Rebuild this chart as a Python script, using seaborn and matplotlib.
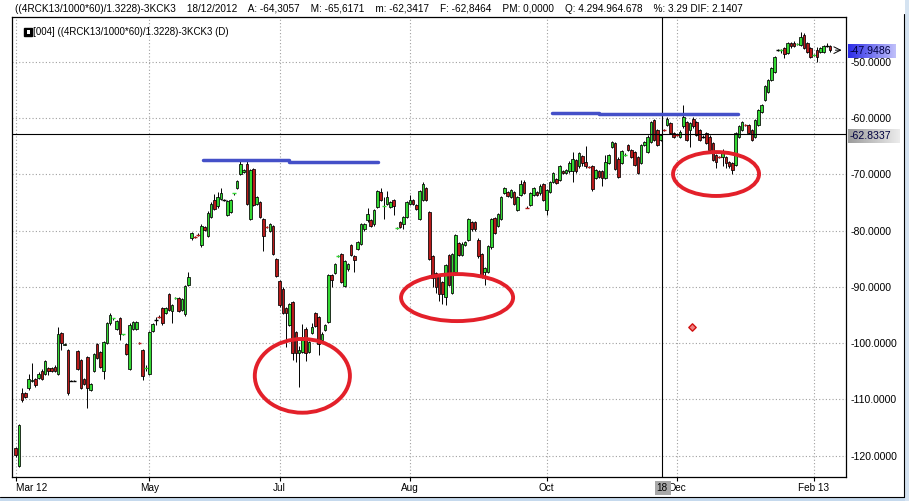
import matplotlib
matplotlib.use("Agg")
import numpy as np
import pandas as pd
import seaborn as sns
import matplotlib.pyplot as plt
from matplotlib.patches import Rectangle, Ellipse
from matplotlib.colors import LinearSegmentedColormap

# ----- daily candles -----
opens = [
    -118.7, -121.8, -108.9, -108.9, -108.0, -106.7, -106.4, -106.2, -104.9, -105.4,
    -104.4, -104.4, -104.2, -105.4, -98.2, -100.3, -101.2, -106.7, -106.7, -101.4,
    -103.0, -106.4, -102.4, -108.3, -104.9, -100.2, -101.5, -105.0, -99.9, -96.5,
    -95.7, -97.4, -95.6, -98.5, -100.2, -104.5, -97.4, -97.4, -99.9, -101.2,
    -104.5, -105.4, -97.8, -95.8, -95.3, -93.7, -94.7, -91.3, -94.3, -92.1,
    -92.0, -94.1, -94.9, -89.7, -81.4, -81.0, -80.7, -82.6, -79.3, -81.0,
    -77.5, -74.6, -75.7, -74.3, -74.5, -77.2, -76.7, -73.5, -72.5, -70.0,
    -69.6, -68.1, -77.9, -69.0, -75.3, -74.9, -77.9, -79.3, -80.1, -79.2,
    -85.0, -88.9, -90.3, -93.7, -96.8, -92.7, -98.0, -101.8, -101.5, -97.4,
    -101.5, -98.2, -94.7, -95.4, -99.5, -97.6, -96.2, -87.9, -87.5, -84.6,
    -84.1, -89.8, -86.9, -82.6, -84.6, -83.2, -82.3, -79.8, -78.2, -78.2,
    -78.9, -75.8, -73.1, -75.8, -75.2, -75.8, -74.5, -79.7, -78.5, -78.8,
    -77.6, -75.2, -74.6, -75.5, -77.9, -74.6, -72.5, -76.7, -84.6, -87.6,
    -87.9, -89.1, -91.8, -84.4, -91.1, -87.3, -82.2, -84.4, -82.5, -81.6,
    -78.5, -78.5, -81.6, -84.2, -87.3, -87.3, -83.0, -77.7, -79.2, -77.9,
    -73.3, -73.1, -74.0, -73.1, -76.3, -73.6, -71.4, -75.8, -75.5, -73.7,
    -73.1, -73.4, -71.7, -76.3, -73.1, -71.4, -70.8, -71.0, -69.4, -69.8,
    -69.5, -69.5, -67.5, -68.6, -66.7, -67.8, -68.6, -68.6, -70.7, -69.5,
    -69.5, -70.7, -68.0, -65.1, -64.5, -67.2, -68.0, -66.6, -64.8, -65.7,
    -66.0, -66.9, -68.0, -64.8, -66.0, -64.2, -60.4, -62.1, -63.9, -62.1,
    -61.2, -60.9, -62.7, -63.0, -63.3, -61.5, -60.7, -62.1, -60.1, -60.7,
    -62.1, -63.3, -62.7, -63.3, -64.5, -66.6, -66.9, -66.9, -66.9, -67.8,
    -68.0, -68.3, -63.3, -62.1, -61.2, -61.2, -62.1, -63.3, -61.2, -58.9,
    -56.8, -55.3, -53.3, -51.8, -47.9, -48.0, -47.6, -48.5, -46.7, -46.6,
    -46.9, -47.0, -45.3, -46.7, -47.6, -48.9, -48.0, -48.2, -48.2, -47.2, -47.2,
]
highs = [
    -118.5, -114.4, -108.0, -108.7, -105.5, -103.6, -106.2, -105.2, -104.6, -103.0,
    -104.2, -104.3, -103.8, -97.1, -98.0, -100.0, -101.0, -106.6, -106.6, -101.2,
    -102.8, -106.2, -102.2, -107.0, -101.8, -100.0, -101.3, -99.6, -96.3, -94.7,
    -95.5, -95.9, -95.4, -98.3, -100.0, -96.5, -96.0, -96.1, -99.8, -101.0,
    -103.8, -97.8, -96.4, -95.3, -95.0, -93.5, -93.6, -91.1, -93.1, -91.8,
    -91.8, -92.0, -89.7, -87.4, -80.2, -80.9, -80.5, -78.9, -79.1, -76.6,
    -75.0, -73.5, -73.2, -72.5, -74.3, -74.6, -74.4, -73.3, -71.0, -67.6,
    -69.0, -67.5, -69.0, -68.8, -73.8, -74.7, -77.7, -79.2, -78.7, -79.0,
    -84.8, -88.7, -90.1, -93.5, -92.8, -92.5, -97.8, -100.5, -96.6, -97.2,
    -99.6, -96.4, -94.5, -95.2, -98.1, -96.6, -87.7, -87.7, -85.7, -84.4,
    -83.9, -85.2, -85.7, -82.4, -84.4, -81.8, -78.6, -78.6, -76.0, -78.0,
    -76.2, -72.8, -72.4, -74.0, -73.0, -74.7, -74.3, -79.4, -78.3, -77.4,
    -74.7, -73.7, -74.4, -75.3, -72.8, -71.4, -72.3, -76.5, -84.4, -87.4,
    -87.7, -88.9, -86.0, -84.2, -84.0, -80.6, -82.0, -82.1, -81.8, -77.8,
    -78.3, -78.3, -81.4, -84.0, -86.5, -82.6, -77.7, -77.5, -76.8, -73.9,
    -72.2, -72.9, -72.6, -72.9, -73.8, -71.0, -71.0, -75.7, -73.2, -72.2,
    -72.9, -71.8, -71.5, -72.6, -71.2, -69.6, -70.6, -68.4, -69.2, -69.0,
    -67.6, -66.0, -67.3, -66.1, -66.5, -65.0, -68.5, -68.4, -69.0, -69.3,
    -69.3, -66.5, -66.4, -64.0, -64.3, -67.0, -65.7, -66.3, -64.6, -65.5,
    -65.8, -66.7, -64.6, -64.0, -63.1, -60.5, -60.2, -61.9, -62.8, -62.0,
    -59.9, -60.7, -62.5, -62.8, -62.2, -57.7, -60.5, -60.7, -59.9, -60.5,
    -61.9, -63.1, -62.5, -63.1, -64.3, -66.4, -66.7, -65.5, -66.7, -67.6,
    -67.8, -62.5, -61.3, -60.5, -61.0, -61.0, -61.9, -60.2, -58.4, -57.5,
    -54.2, -53.1, -51.0, -48.9, -47.7, -47.7, -47.4, -46.5, -46.5, -46.4,
    -46.6, -44.8, -44.9, -46.5, -47.4, -48.6, -47.4, -47.4, -47.1, -46.6, -47.0,
]
lows = [
    -120.2, -122.0, -110.4, -109.7, -108.3, -106.9, -107.7, -106.4, -106.6, -105.6,
    -105.6, -105.2, -105.2, -105.6, -101.2, -100.4, -109.2, -106.8, -106.8, -104.7,
    -108.1, -107.4, -111.6, -108.5, -105.1, -102.8, -104.4, -106.3, -100.1, -96.7,
    -95.8, -97.6, -99.4, -98.6, -102.1, -104.7, -97.6, -97.6, -100.1, -106.6,
    -105.0, -105.6, -98.0, -96.8, -95.6, -96.7, -94.9, -94.3, -96.4, -92.2,
    -94.5, -94.3, -95.1, -89.9, -81.6, -81.3, -81.0, -83.0, -80.1, -81.2,
    -77.7, -76.3, -75.9, -74.5, -74.7, -77.4, -76.9, -73.6, -72.7, -70.2,
    -69.8, -75.5, -78.1, -75.7, -75.5, -77.7, -83.7, -79.5, -80.3, -84.4,
    -88.3, -93.5, -94.9, -100.7, -97.0, -103.0, -103.3, -107.8, -101.7, -103.2,
    -101.7, -98.4, -97.1, -102.1, -99.7, -97.8, -96.4, -90.0, -87.7, -84.7,
    -89.3, -90.0, -87.1, -84.6, -87.4, -83.4, -82.5, -80.0, -78.4, -79.3,
    -79.1, -76.0, -74.8, -77.9, -75.4, -76.0, -77.3, -79.8, -79.5, -79.8,
    -77.8, -75.4, -75.4, -76.3, -78.1, -74.8, -74.8, -85.2, -90.0, -91.0,
    -92.5, -93.0, -93.2, -89.9, -91.3, -87.5, -84.6, -84.6, -82.7, -81.8,
    -80.0, -80.0, -84.8, -88.4, -89.7, -87.5, -83.2, -80.6, -79.4, -78.1,
    -73.5, -74.1, -74.2, -75.4, -76.5, -73.8, -73.5, -76.0, -75.7, -73.9,
    -73.9, -73.6, -74.8, -77.2, -73.3, -71.6, -71.7, -71.2, -69.9, -70.0,
    -69.7, -71.3, -69.7, -68.8, -68.6, -68.8, -68.8, -72.9, -70.9, -70.6,
    -72.0, -70.9, -68.2, -65.3, -69.3, -70.6, -68.2, -66.8, -65.9, -67.1,
    -68.5, -70.0, -68.2, -65.0, -66.2, -64.4, -64.1, -65.0, -64.1, -62.3,
    -61.4, -62.9, -63.5, -63.2, -63.5, -61.7, -64.1, -65.2, -61.7, -63.2,
    -64.1, -63.5, -64.7, -65.9, -67.7, -68.8, -67.1, -68.6, -68.9, -68.8,
    -70.0, -68.5, -63.5, -62.3, -61.4, -62.9, -64.1, -63.5, -61.4, -59.1,
    -57.0, -55.5, -53.5, -52.0, -48.1, -48.5, -49.4, -48.7, -47.5, -47.4,
    -47.0, -47.2, -47.8, -48.4, -49.3, -49.0, -50.0, -48.4, -48.4, -47.4, -48.2,
]
closes = [
    -119.9, -114.6, -110.1, -109.5, -106.3, -106.5, -107.5, -105.4, -106.3, -103.2,
    -105.0, -105.0, -105.0, -98.4, -100.0, -100.1, -108.8, -106.7, -106.7, -104.5,
    -107.9, -107.2, -108.0, -107.2, -102.0, -102.6, -104.2, -99.8, -96.5, -95.0,
    -95.6, -96.1, -98.4, -98.4, -101.9, -96.7, -96.2, -96.3, -100.0, -105.9,
    -104.4, -98.0, -96.6, -95.8, -95.4, -96.5, -93.8, -94.1, -93.3, -92.0,
    -94.3, -92.2, -89.9, -88.3, -80.4, -81.1, -80.8, -79.2, -79.9, -76.8,
    -75.2, -76.1, -74.0, -73.3, -74.5, -74.8, -74.6, -73.4, -71.2, -68.1,
    -69.2, -75.3, -69.3, -75.5, -74.0, -77.5, -81.0, -79.4, -78.9, -84.2,
    -88.1, -93.3, -94.7, -94.6, -93.0, -101.8, -101.8, -101.2, -99.5, -101.7,
    -99.8, -97.2, -96.9, -100.2, -98.3, -96.8, -87.9, -88.8, -85.9, -84.5,
    -89.1, -85.4, -85.9, -84.4, -85.3, -82.0, -78.8, -78.8, -77.1, -79.1,
    -76.4, -73.0, -74.6, -75.7, -74.0, -74.9, -75.7, -79.6, -79.3, -77.6,
    -74.9, -74.5, -75.2, -76.1, -73.0, -71.7, -74.6, -85.0, -88.5, -90.0,
    -91.2, -91.3, -86.2, -89.7, -84.2, -80.8, -84.4, -82.3, -82.0, -78.0,
    -79.8, -79.8, -84.6, -88.2, -86.7, -82.8, -77.9, -80.4, -77.0, -74.1,
    -72.4, -73.9, -72.8, -75.2, -74.0, -71.7, -73.3, -75.9, -73.4, -72.4,
    -73.7, -72.0, -74.6, -72.8, -71.4, -69.8, -71.5, -68.6, -69.7, -69.2,
    -68.0, -67.2, -69.5, -66.3, -68.0, -68.6, -68.7, -72.7, -69.2, -70.4,
    -70.7, -67.8, -66.6, -64.2, -69.1, -70.4, -65.9, -66.5, -65.7, -66.9,
    -68.3, -69.8, -64.8, -64.2, -63.3, -60.7, -63.9, -64.8, -63.0, -62.2,
    -60.1, -62.7, -63.3, -63.1, -62.4, -59.8, -63.9, -60.9, -61.5, -63.0,
    -63.9, -63.3, -64.5, -65.7, -67.5, -67.8, -67.0, -66.0, -68.0, -68.6,
    -69.2, -62.7, -61.5, -60.7, -61.3, -62.7, -63.9, -60.4, -58.6, -57.7,
    -54.4, -53.3, -51.2, -49.1, -47.9, -47.9, -48.6, -46.7, -47.3, -47.2,
    -46.8, -45.6, -47.6, -48.2, -49.1, -48.8, -49.1, -47.6, -47.3, -47.2, -47.9486,
]

tick_pos = [0, 41, 81, 121, 163, 203, 245]
tick_labels = ['Mar 12', 'May', 'Jul', 'Aug', 'Oct', 'Dec', 'Feb 13']
y_ticks = [-120, -110, -100, -90, -80, -70, -60, -50]

last_value = -47.9486
cross_idx = 198.5
cross_value = -62.8337

# hand drawn marks on the chart
trend_x = [[57.5, 84.0], [84.0, 111.3], [164.7, 179.0], [179.0, 221.8]]
trend_y = [[-67.5, -67.5], [-67.75, -67.75], [-59.1, -59.1], [-59.35, -59.35]]
circle_x = [88.0, 135.5, 215.0]
circle_y = [-105.8, -91.9, -69.95]
circle_w = [29.2, 34.4, 26.4]
circle_h = [13.1, 8.35, 7.8]
marker_x = [207.6]
marker_y = [-97.1]

header = ("((4RCK13/1000*60)/1.3228)-3KCK3    18/12/2012    A: -64,3057    M: -65,6171    "
          "m: -62,3417    F: -62,8464    PM: 0,0000    Q: 4.294.964.678    %: 3.29 DIF: 2.1407")
legend_txt = "[004] ((4RCK13/1000*60)/1.3228)-3KCK3 (D)"

W, H = 909, 501

sns.set_theme(style="white")
plt.rcParams['font.family'] = ['Liberation Sans', 'DejaVu Sans']

fig = plt.figure(figsize=(W / 100, H / 100), dpi=100)
fig.patch.set_facecolor('white')


def px_rect(x0, y0, x1, y1):
    return [x0 / W, 1 - y1 / H, (x1 - x0) / W, (y1 - y0) / H]


ax = fig.add_axes(px_rect(12, 17, 846, 477))
ax.set_facecolor('white')

df = pd.DataFrame({'o': opens, 'h': highs, 'l': lows, 'c': closes})
df['idx'] = np.arange(len(df))

green = '#33d833'
red = '#b81a1a'
body_w = 0.78

ax.vlines(df['idx'], df['l'], df['h'], color='black', lw=0.7, zorder=2)
for row in df.itertuples():
    diff = row.c - row.o
    col = green if diff > 0 else (red if diff < 0 else 'black')
    if abs(diff) < 0.2:
        ax.hlines(row.c, row.idx - 0.55, row.idx + 0.55, color=col, lw=1.0, zorder=3)
    else:
        ax.add_patch(Rectangle((row.idx - body_w / 2, min(row.o, row.c)), body_w, abs(diff),
                               facecolor=col, edgecolor='black', lw=0.55, zorder=3))

# trend lines
for xs, ys in zip(trend_x, trend_y):
    sns.lineplot(x=xs, y=ys, ax=ax, color='#4450c8', lw=2.5, zorder=5)

# circles
for cx, cy, w, h in zip(circle_x, circle_y, circle_w, circle_h):
    ax.add_patch(Ellipse((cx, cy), w, h, fill=False, edgecolor='#e3202a', lw=2.8, zorder=6))

sns.scatterplot(x=marker_x, y=marker_y, ax=ax, marker='D', s=14, color='#f08080',
                edgecolor='#d01010', linewidth=1.0, zorder=6)

# crosshair
ax.axvline(cross_idx, color='black', lw=0.8, zorder=4)
ax.axhline(cross_value, color='black', lw=0.8, zorder=4)

ax.annotate('', xy=(254.4, last_value), xytext=(250.8, last_value),
            arrowprops=dict(arrowstyle='->', lw=0.7, color='black'), zorder=6)

ax.set_xlim(-1.14, 254.9)
ax.set_ylim(-123.77, -42.06)

ax.yaxis.tick_right()
ax.set_yticks(y_ticks)
ax.set_yticklabels([f"{v:.4f}" for v in y_ticks])
ax.tick_params(axis='y', length=0, pad=3, labelsize=7.6, colors='black')
ax.set_xticks(tick_pos)
ax.set_xticklabels(tick_labels)
ax.tick_params(axis='x', length=3, width=0.8, pad=1.5, labelsize=7.2, colors='black',
               direction='out', bottom=True)
ax.get_xticklabels()[0].set_ha('left')

ax.grid(True, linestyle=(0, (1, 2)), color='#a0a0a0', lw=0.8)
for s in ax.spines.values():
    s.set_color('black')
    s.set_linewidth(0.9)

# header and legend
fig.text(15 / W, 1 - 9 / H, header, fontsize=7.2, va='center', ha='left', color='black')
fig.patches.append(Rectangle((24 / W, 1 - 36 / H), 8 / W, 8 / H, facecolor='black',
                             edgecolor='black', transform=fig.transFigure, figure=fig))
fig.patches.append(Rectangle((26.5 / W, 1 - 33.5 / H), 3 / W, 3 / H, facecolor='white',
                             edgecolor='none', transform=fig.transFigure, figure=fig))
fig.text(33 / W, 1 - 32 / H, legend_txt, fontsize=7.0, va='center', ha='left', color='black')


def grad_box(x0, y0, x1, y1, c0, c1, label):
    bx = fig.add_axes(px_rect(x0, y0, x1, y1))
    cmap = LinearSegmentedColormap.from_list('g', [c0, c1])
    bx.imshow(np.linspace(0, 1, 60).reshape(1, -1), cmap=cmap, aspect='auto')
    bx.set_axis_off()
    fig.text((x0 + 2) / W, 1 - ((y0 + y1) / 2) / H, label, fontsize=7.6, va='center',
             ha='left', color='#000040')


grad_box(848, 44, 896, 58, '#2c2ce8', '#c0c0fa', f"{last_value:.4f}")
grad_box(848, 129, 900, 143, '#9c9c9c', '#ececec', f"{cross_value:.4f}")

# date marker under the crosshair
fig.patches.append(Rectangle((655 / W, 1 - 495 / H), 16 / W, 14 / H, facecolor='#a8a8a8',
                             edgecolor='none', transform=fig.transFigure, figure=fig, zorder=3))
fig.text(656 / W, 1 - 488 / H, '18', fontsize=7.2, va='center', ha='left', color='black',
         zorder=4)

# window frame
fig.patches.append(Rectangle((0, 0), 1, 4 / H, facecolor='#c5d9ed', edgecolor='none',
                             transform=fig.transFigure, figure=fig))
fig.patches.append(Rectangle((905 / W, 0), 4 / W, 1, facecolor='#d5e3f1', edgecolor='none',
                             transform=fig.transFigure, figure=fig))
fig.lines.append(plt.Line2D([0, 904 / W], [1 - 496.5 / H] * 2, color='black', lw=0.8,
                            transform=fig.transFigure, figure=fig))
fig.lines.append(plt.Line2D([904 / W] * 2, [1 - 496.5 / H, 1 - 14 / H], color='black', lw=0.8,
                            transform=fig.transFigure, figure=fig))

fig.savefig('out.png', dpi=100)
